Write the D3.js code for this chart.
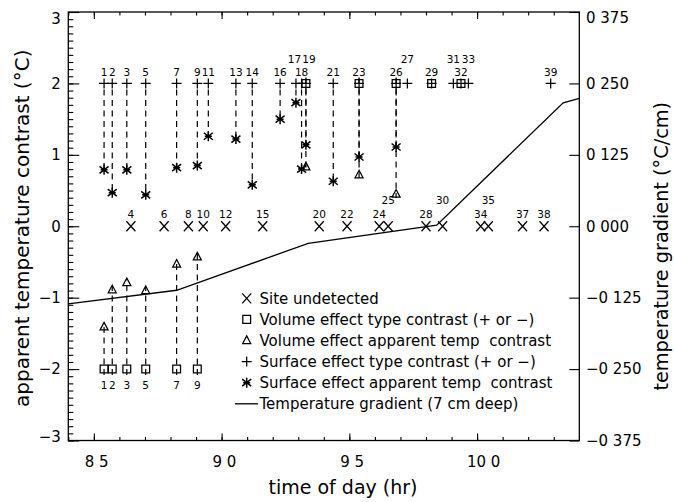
<!DOCTYPE html>
<html>
<head>
<meta charset="utf-8">
<script src="https://cdn.jsdelivr.net/npm/d3@7"></script>
<style>
  body { margin: 0; background: #fff; }
  svg { display: block; font-family: "DejaVu Sans", sans-serif; }
  text { fill: #000; }
</style>
</head>
<body>
<svg id="chart" width="674" height="502"></svg>
<script>
// Observed sites and the time of day (hr) each one was passed
const siteNumbers = [1,2,3,4,5,6,7,8,9,10,11,12,13,14,15,16,17,18,19,20,21,22,23,24,25,26,27,28,29,30,31,32,33,34,35,37,38,39];
const siteTimes   = [8.540,8.572,8.629,8.645,8.703,8.775,8.824,8.870,8.905,8.928,8.948,9.016,9.056,9.120,9.161,9.229,9.291,9.313,9.330,9.382,9.437,9.491,9.538,9.617,9.652,9.683,9.727,9.800,9.822,9.865,9.907,9.937,9.966,10.014,10.044,10.178,10.262,10.288];

// Sites with no detectable signature
const undetectedSites = [4,6,8,10,12,15,20,22,24,25,28,30,34,35,37,38];

// Volume effect: type contrast sign (plotted at +/-2) and apparent temperature contrast (°C)
const volumeTypeSites  = [1,2,3,5,7,9,19,23,26,29,32];
const volumeTypeSigns  = [-1,-1,-1,-1,-1,-1,1,1,1,1,1];
const volumeTempSites  = [1,2,3,5,7,9,19,23,26];
const volumeTempValues = [-1.41,-0.89,-0.79,-0.90,-0.53,-0.43,0.83,0.72,0.45];

// Surface effect: type contrast (all positive) and apparent temperature contrast (°C)
const surfaceTypeSites  = [1,2,3,5,7,9,11,13,14,16,17,18,19,21,23,26,27,29,31,32,33,39];
const surfaceTempSites  = [1,2,3,5,7,9,11,13,14,16,17,18,19,21,23,26];
const surfaceTempValues = [0.79,0.47,0.79,0.44,0.82,0.85,1.26,1.22,0.58,1.50,1.73,0.80,1.14,0.63,0.97,1.11];

// Temperature gradient at 7 cm depth (°C/cm)
const gradientTimes  = [8.40,8.824,9.339,9.842,10.337,10.40];
const gradientValues = [-0.136,-0.112,-0.030,0.002,0.216,0.224];

// Site numbers whose labels sit on a raised second row
const raisedLabelSites = [17,19,25,27,30,31,33,35];

// Axis ticks
const xTickValues  = [8.5,9.0,9.5,10.0];
const xTickLabels  = ["8 5","9 0","9 5","10 0"];
const yTickValues  = [-3,-2,-1,0,1,2,3];
const yTickLabels  = ["\u22123","\u22122","\u22121","0","1","2","3"];
const y2TickValues = [-0.375,-0.25,-0.125,0,0.125,0.25,0.375];
const y2TickLabels = ["\u22120 375","\u22120 250","\u22120 125","0 000","0 125","0 250","0 375"];

// Legend
const legendKeys   = ["cross","square","triangle","plus","star","line"];
const legendLabels = [
  "Site undetected",
  "Volume effect type contrast (+ or \u2212)",
  "Volume effect apparent temp  contrast",
  "Surface effect type contrast (+ or \u2212)",
  "Surface effect apparent temp  contrast",
  "Temperature gradient (7 cm deep)"
];

const svg = d3.select("#chart");
const L = 68.3, R = 579.3, T = 12, B = 440.5;

const x  = d3.scaleLinear().domain([8.4, 10.4]).range([L, R]);
const y  = d3.scaleLinear().domain([-3, 3]).range([B, T]);
const y2 = d3.scaleLinear().domain([-0.375, 0.375]).range([B, T]);

const timeOf = s => siteTimes[siteNumbers.indexOf(s)];

// marker shapes
const shapes = {
  cross:    "M-4.5,-5L4.5,5M-4.5,5L4.5,-5",
  plus:     "M-5,0H5M0,-5V5",
  square:   "M-3.9,-3.9H3.9V3.9H-3.9Z",
  triangle: "M0,-4.6L4,3L-4,3Z",
  star:     "M0,-5V5M-4.5,-3.5L4.5,3.5M-4.5,3.5L4.5,-3.5M-3.5,0H3.5"
};
function marker(g, key, px, py) {
  g.append("path")
    .attr("d", shapes[key])
    .attr("transform", `translate(${px},${py})`)
    .attr("fill", "none")
    .attr("stroke", "#000")
    .attr("stroke-width", key === "star" ? 1.5 : 1.25);
}

// ---- axes ----
const minorX = d3.range(84, 104).map(v => v / 10);
const minorY = d3.range(-30, 31).map(v => v / 10);

function styleAxis(g) {
  g.select(".domain").remove();
  g.selectAll(".tick line").attr("stroke", "#000").attr("stroke-width", 1.1);
  g.selectAll("text").attr("fill", "#000").attr("font-family", "DejaVu Sans, sans-serif");
}

svg.append("g").attr("transform", `translate(0,${B})`)
  .call(d3.axisBottom(x).tickValues(minorX).tickSize(-3.5).tickFormat(""))
  .call(styleAxis);
svg.append("g").attr("transform", `translate(0,${B})`)
  .call(d3.axisBottom(x).tickValues(xTickValues).tickSize(-7).tickPadding(15.5)
        .tickFormat((d, i) => xTickLabels[i]))
  .call(styleAxis)
  .selectAll("text").attr("font-size", 15)
  .attr("dx", (d, i) => xTickLabels[i].length > 3 ? "0.4em" : "0.15em");

svg.append("g").attr("transform", `translate(0,${T})`)
  .call(d3.axisTop(x).tickValues(minorX).tickSize(-3.5).tickFormat(""))
  .call(styleAxis);
svg.append("g").attr("transform", `translate(0,${T})`)
  .call(d3.axisTop(x).tickValues(xTickValues).tickSize(-7).tickFormat(""))
  .call(styleAxis);

svg.append("g").attr("transform", `translate(${L},0)`)
  .call(d3.axisLeft(y).tickValues(minorY).tickSize(-5).tickFormat(""))
  .call(styleAxis);
const yAxisG = svg.append("g").attr("transform", `translate(${L},0)`)
  .call(d3.axisLeft(y).tickValues(yTickValues).tickSize(-11).tickPadding(7.5)
        .tickFormat((d, i) => yTickLabels[i]))
  .call(styleAxis);
yAxisG.selectAll("text").attr("font-size", 15)
  .attr("dy", d => d === 3 ? "0.75em" : d === -3 ? "0.05em" : "0.32em");

const y2AxisG = svg.append("g").attr("transform", `translate(${R},0)`)
  .call(d3.axisRight(y2).tickValues(y2TickValues).tickSize(-10).tickPadding(6.7)
        .tickFormat((d, i) => y2TickLabels[i]))
  .call(styleAxis);
y2AxisG.selectAll("text").attr("font-size", 15)
  .attr("dy", d => d === 0.375 ? "0.72em" : "0.32em");

// frame
svg.append("rect")
  .attr("x", L).attr("y", T).attr("width", R - L).attr("height", B - T)
  .attr("fill", "none").attr("stroke", "#000").attr("stroke-width", 1.3);

// ---- axis titles ----
svg.append("text")
  .attr("transform", `translate(29,${(T + B) / 2 + 2}) rotate(-90)`)
  .attr("text-anchor", "middle").attr("font-size", 20)
  .text("apparent temperature contrast (\u00B0C)");
svg.append("text")
  .attr("transform", `translate(668,${(T + B) / 2 + 20}) rotate(-90)`)
  .attr("text-anchor", "middle").attr("font-size", 19.3)
  .text("temperature gradient (\u00B0C/cm)");
svg.append("text")
  .attr("x", 343).attr("y", 494)
  .attr("text-anchor", "middle").attr("font-size", 19)
  .text("time of day (hr)");

// ---- gradient line (right axis) ----
const gradientPts = gradientTimes.map((t, i) => [t, gradientValues[i]]);
svg.append("path")
  .datum(gradientPts)
  .attr("d", d3.line().x(d => x(d[0])).y(d => y2(d[1])))
  .attr("fill", "none").attr("stroke", "#000").attr("stroke-width", 1.3);

// ---- dashed connectors ----
const conn = svg.append("g").attr("stroke", "#000").attr("stroke-width", 1.2)
  .attr("stroke-dasharray", "6,4.5");
surfaceTempSites.forEach((s, i) => {
  conn.append("line")
    .attr("x1", x(timeOf(s))).attr("x2", x(timeOf(s)))
    .attr("y1", y(2) + 6).attr("y2", y(surfaceTempValues[i]));
});
volumeTempSites.forEach((s, i) => {
  const sign = volumeTypeSigns[volumeTypeSites.indexOf(s)];
  conn.append("line")
    .attr("x1", x(timeOf(s))).attr("x2", x(timeOf(s)))
    .attr("y1", y(2 * sign) - 6 * sign).attr("y2", y(volumeTempValues[i]) + 4 * sign);
});

// ---- markers ----
const mk = svg.append("g");
undetectedSites.forEach(s => marker(mk, "cross", x(timeOf(s)), y(0)));
volumeTypeSites.forEach((s, i) => marker(mk, "square", x(timeOf(s)), y(2 * volumeTypeSigns[i])));
volumeTempSites.forEach((s, i) => marker(mk, "triangle", x(timeOf(s)), y(volumeTempValues[i])));
surfaceTypeSites.forEach(s => marker(mk, "plus", x(timeOf(s)), y(2)));
surfaceTempSites.forEach((s, i) => marker(mk, "star", x(timeOf(s)), y(surfaceTempValues[i])));

// ---- site number labels ----
// small sideways shifts keep crowded neighbour labels apart
const labelShift = { 17: -1.5, 19: 3 };
const lab = svg.append("g").attr("font-size", 10.5).attr("text-anchor", "middle");
surfaceTypeSites.forEach(s => {
  const raised = raisedLabelSites.includes(s);
  lab.append("text").attr("x", x(timeOf(s)) + (labelShift[s] || 0))
    .attr("y", y(2) + (raised ? -20 : -7)).text(s);
});
volumeTypeSites.forEach((s, i) => {
  if (volumeTypeSigns[i] < 0)
    lab.append("text").attr("x", x(timeOf(s))).attr("y", y(-2) + 20).text(s);
});
undetectedSites.forEach(s => {
  const raised = raisedLabelSites.includes(s);
  lab.append("text").attr("x", x(timeOf(s))).attr("y", y(0) + (raised ? -22 : -8)).text(s);
});

// ---- legend ----
const lg = svg.append("g");
legendKeys.forEach((k, i) => {
  const cy = 298.3 + i * 21.1;
  if (k === "line") {
    lg.append("line").attr("x1", 235).attr("x2", 258).attr("y1", cy).attr("y2", cy)
      .attr("stroke", "#000").attr("stroke-width", 1.3);
  } else {
    marker(lg, k, 246.7, cy);
  }
  lg.append("text").attr("x", 259.5).attr("y", cy + 5.3)
    .attr("font-size", 15).style("white-space", "pre")
    .text(legendLabels[i]);
});
</script>
</body>
</html>
